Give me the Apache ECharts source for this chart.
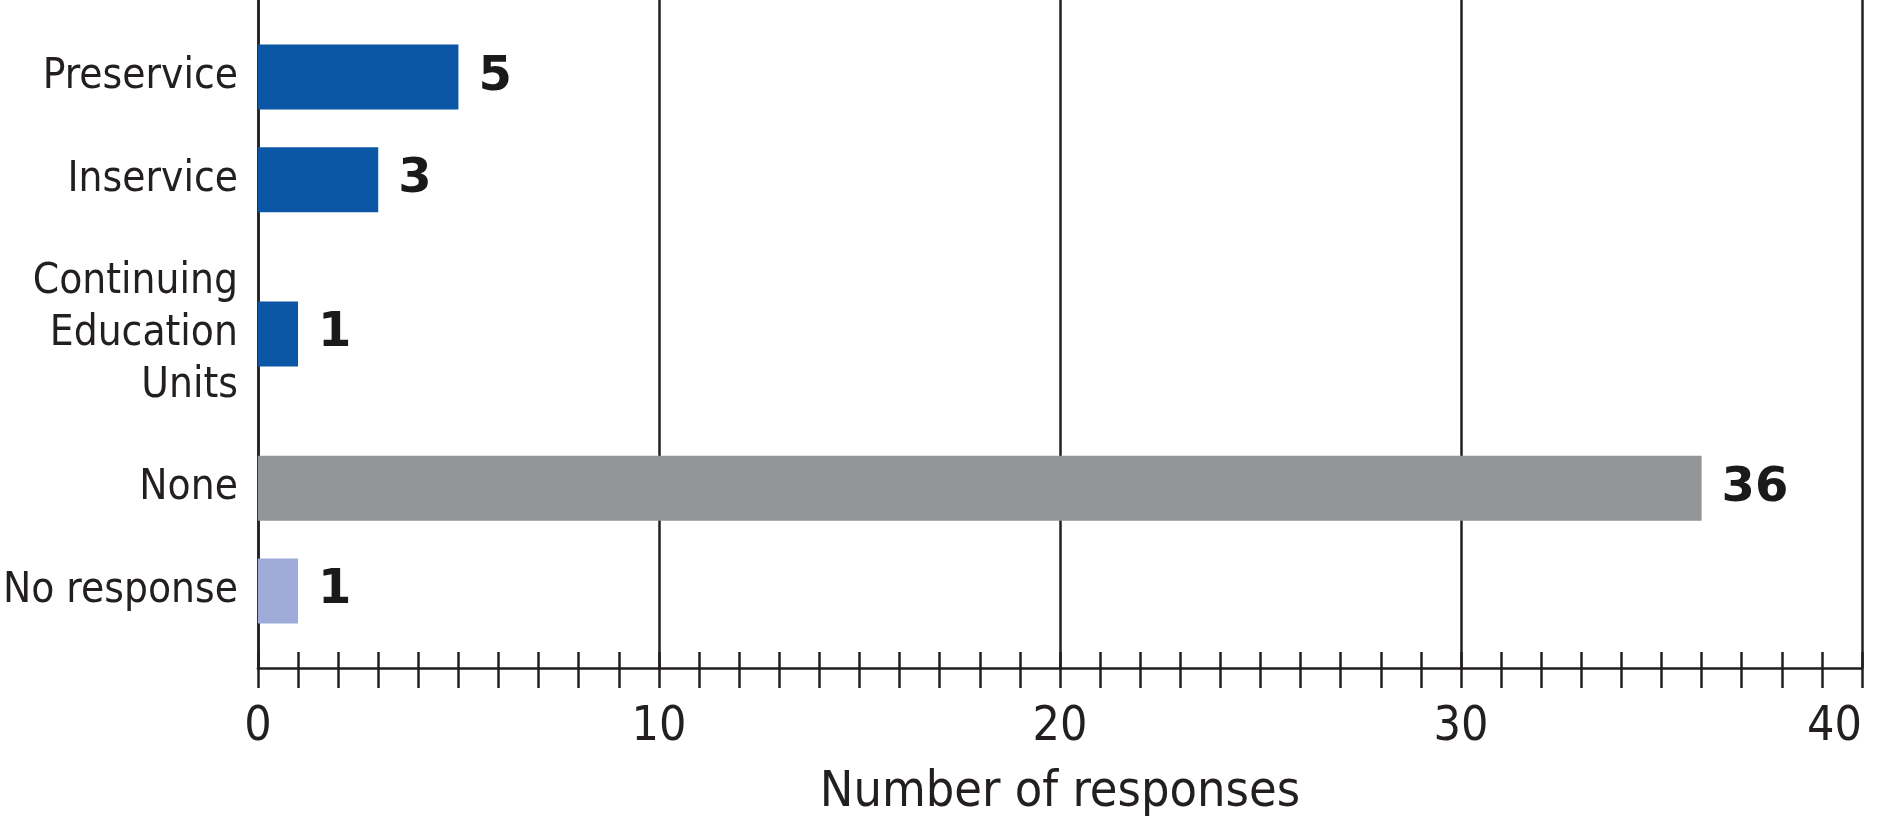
<!DOCTYPE html>
<html>
<head>
<meta charset="utf-8">
<script src="https://cdn.jsdelivr.net/npm/echarts@6/dist/echarts.min.js"></script>
<style>
html,body{margin:0;padding:0;background:#fff;}
#chart{width:1878px;height:829px;}
</style>
</head>
<body>
<div id="chart"></div>
<script>
// ---- data ----
const categories = ['Preservice', 'Inservice', 'Continuing\nEducation\nUnits', 'None', 'No response'];
const values = [5, 3, 1, 36, 1];
const xTickLabels = ['0', '10', '20', '30', '40'];
const xAxisTitle = 'Number of responses';

// ---- styling / layout ----
const barColors = ['#0b57a6', '#0b57a6', '#0b57a6', '#939598', '#9fabd9'];
const slotIndex = [1, 3, 6, 9, 11];   // visual spacing of the rows
const slotCount = 13;

const axisCats = new Array(slotCount).fill('');
const axisData = new Array(slotCount).fill(null);
slotIndex.forEach((s, i) => {
  axisCats[s] = categories[i];
  axisData[s] = { value: values[i], itemStyle: { color: barColors[i] } };
});

const narrow = "'Liberation Sans Narrow', 'Arial Narrow', 'DejaVu Sans Condensed', sans-serif";
const ink = '#231f20';

const chart = echarts.init(document.getElementById('chart'), null, { renderer: 'canvas' });
chart.setOption({
  animation: false,
  backgroundColor: '#ffffff',
  grid: { left: 257, right: 16, top: -15, bottom: 161, containLabel: false },
  xAxis: [
    {
      type: 'value', min: 0, max: 40, interval: 10,
      axisLine: { show: true, lineStyle: { color: ink, width: 2.5 } },
      axisTick: { show: true, inside: false, length: 20, lineStyle: { color: ink, width: 2.5 } },
      minorTick: { show: true, splitNumber: 10, length: 20, lineStyle: { color: ink, width: 2.5 } },
      splitLine: { show: true, lineStyle: { color: ink, width: 2.5 } },
      axisLabel: {
        show: true, margin: 36, fontFamily: narrow, fontSize: 48, color: ink,
        alignMaxLabel: 'right',
        formatter: v => xTickLabels[xTickLabels.indexOf(String(v))] || ''
      },
      name: xAxisTitle, nameLocation: 'middle', nameGap: 100,
      nameTextStyle: { fontFamily: narrow, fontSize: 50, color: ink }
    },
    {
      type: 'value', min: 0, max: 40, interval: 1, position: 'bottom',
      axisLine: { show: false },
      axisTick: { show: true, inside: true, length: 16, lineStyle: { color: ink, width: 2.5 } },
      splitLine: { show: false },
      axisLabel: { show: false }
    }
  ],
  yAxis: {
    type: 'category', inverse: true, data: axisCats,
    axisLine: { show: true, lineStyle: { color: ink, width: 2.5 } },
    axisTick: { show: false },
    splitLine: { show: false },
    axisLabel: {
      margin: 20, fontFamily: narrow, fontSize: 42, color: ink,
      lineHeight: 52, align: 'right', interval: 0
    }
  },
  series: [{
    type: 'bar', xAxisIndex: 0, data: axisData, barWidth: 65,
    label: {
      show: true, position: 'right', distance: 20,
      fontFamily: "'DejaVu Sans', sans-serif", fontWeight: 'bold', fontSize: 48, color: '#1a1a1a'
    }
  }]
});
</script>
</body>
</html>
